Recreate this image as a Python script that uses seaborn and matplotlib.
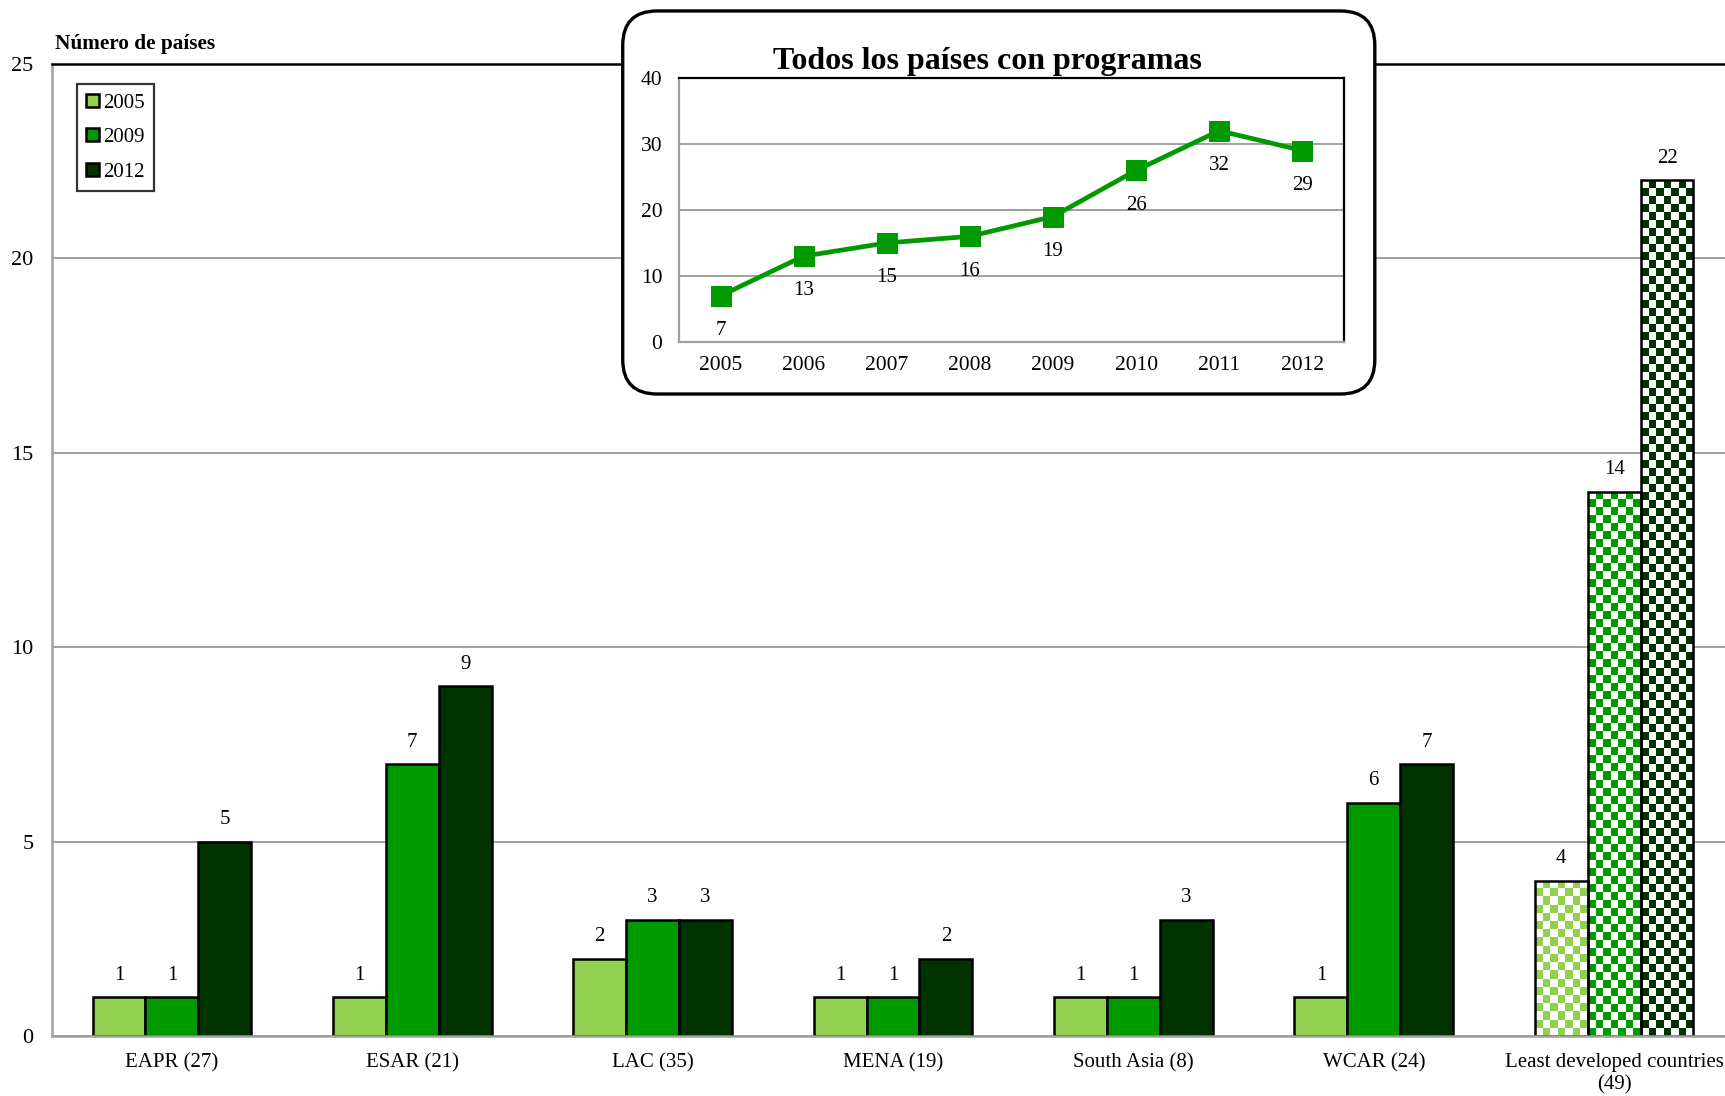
import numpy as np
import pandas as pd
import matplotlib
matplotlib.use("Agg")
import matplotlib.pyplot as plt
from matplotlib.colors import ListedColormap
from matplotlib.patches import FancyBboxPatch
import seaborn as sns

# data
categories = ["EAPR (27)", "ESAR (21)", "LAC (35)", "MENA (19)",
              "South Asia (8)", "WCAR (24)", "Least developed countries\n(49)"]
years = ["2005", "2009", "2012"]
v2005 = [1, 1, 2, 1, 1, 1, 4]
v2009 = [1, 7, 3, 1, 1, 6, 14]
v2012 = [5, 9, 3, 2, 3, 7, 22]

inset_years = ["2005", "2006", "2007", "2008", "2009", "2010", "2011", "2012"]
inset_values = [7, 13, 15, 16, 19, 26, 32, 29]

colors = ["#92D050", "#009900", "#003300"]
grey = "#A0A0A0"

sns.set_style("white")
plt.rcParams["font.family"] = ["Liberation Serif", "DejaVu Serif"]
plt.rcParams["text.color"] = "black"
plt.rcParams["xtick.color"] = "black"
plt.rcParams["ytick.color"] = "black"

df = pd.DataFrame({
    "region": categories * 3,
    "year": [y for y in years for _ in categories],
    "count": v2005 + v2009 + v2012,
})

fig = plt.figure(figsize=(17.25, 10.96), dpi=100)
ax = fig.add_axes([0.030, 0.0544, 0.9754, 0.8874])

sns.barplot(data=df, x="region", y="count", hue="year", palette=colors,
            order=categories, hue_order=years, width=0.66, saturation=1,
            edgecolor="black", linewidth=1.8, ax=ax, errorbar=None)

ax.set_xlim(-0.5, 6.5)
ax.set_ylim(0, 25)
ax.set_yticks(range(0, 26, 5))
ax.set_axisbelow(True)
ax.yaxis.grid(True, color=grey, linewidth=1.4)
ax.set_xlabel("")
ax.set_ylabel("")

for s in ["left", "bottom"]:
    ax.spines[s].set_color(grey)
    ax.spines[s].set_linewidth(1.8)
ax.spines["top"].set_color("black")
ax.spines["top"].set_linewidth(1.8)
ax.spines["right"].set_visible(False)

ax.set_xticks(range(len(categories)))
ax.set_xticklabels(categories)
ax.set_xticks(np.arange(-0.5, 7, 1), minor=True)
ax.tick_params(axis="x", which="major", length=0, pad=12, labelsize=15)
ax.tick_params(axis="x", which="minor", length=6, width=1.4, color=grey, direction="out")
ax.tick_params(axis="y", length=6, width=1.4, color=grey, labelcolor="black",
               direction="out", labelsize=16, pad=7)

# checkered fill for the least developed countries group
fig.canvas.draw()
px_per_x = ax.get_window_extent().width / 7.0
px_per_y = ax.get_window_extent().height / 25.0
for cont, col in zip(ax.containers, colors):
    p = cont.patches[-1]
    x0, w, h = p.get_x(), p.get_width(), p.get_height()
    nx = max(1, int(round(w * px_per_x / 8)))
    ny = max(1, int(round(h * px_per_y / 8)))
    checker = np.indices((ny, nx)).sum(axis=0) % 2
    im = ax.imshow(checker, extent=(x0, x0 + w, 0, h), aspect="auto",
                   cmap=ListedColormap(["white", col]), interpolation="nearest",
                   zorder=p.get_zorder() - 0.1)
    im.set_clip_path(p)
    p.set_facecolor("none")

ax.set_xlim(-0.5, 6.5)
ax.set_ylim(0, 25)

for cont in ax.containers:
    ax.bar_label(cont, padding=9, fontsize=15)

ax.legend(loc="upper left", bbox_to_anchor=(0.015, 0.979), borderaxespad=0,
          fontsize=15, frameon=True, fancybox=False, edgecolor="black",
          handlelength=0.6, handleheight=0.6, handletextpad=0.2,
          labelspacing=0.75, borderpad=0.45).get_frame().set_linewidth(1.6)

fig.text(0.032, 0.9600, "Número de países", fontsize=15.3, fontweight="bold",
         va="center", ha="left")

# inset box with the overall trend
box = FancyBboxPatch((0.361, 0.6405), 0.436, 0.3495, transform=fig.transFigure,
                     boxstyle="round,pad=0,rounding_size=0.02",
                     facecolor="white", edgecolor="black", linewidth=2.4,
                     zorder=5, mutation_aspect=1.57)
fig.patches.append(box)

ins = fig.add_axes([0.3936, 0.688, 0.3855, 0.2409], zorder=6)
inset_df = pd.DataFrame({"year": inset_years, "value": inset_values})
sns.lineplot(data=inset_df, x="year", y="value", color="#009900", linewidth=3.4,
             marker="s", markersize=14, markeredgecolor="#009900", ax=ins)
for i, v in enumerate(inset_values):
    ins.annotate(str(v), (i, v), xytext=(0, -25), textcoords="offset points",
                 ha="center", va="center", fontsize=15)
ins.set_xlim(-0.5, 7.5)
ins.set_ylim(0, 40)
ins.set_yticks(range(0, 41, 10))
ins.set_axisbelow(True)
ins.yaxis.grid(True, color=grey, linewidth=1.4)
ins.set_xlabel("")
ins.set_ylabel("")
ins.set_xticks(np.arange(-0.5, 8, 1), minor=True)
ins.tick_params(axis="x", which="major", length=0, pad=10, labelsize=15.5)
ins.tick_params(axis="x", which="minor", length=5, width=1.2, color=grey, direction="out")
ins.tick_params(axis="y", length=5, width=1.2, color=grey, labelcolor="black",
                direction="out", labelsize=15.5, pad=7)
for s in ["left", "bottom"]:
    ins.spines[s].set_color(grey)
    ins.spines[s].set_linewidth(1.6)
for s in ["top", "right"]:
    ins.spines[s].set_color("black")
    ins.spines[s].set_linewidth(1.6)
fig.text(0.5727, 0.944, "Todos los países con programas", fontsize=23,
         fontweight="bold", ha="center", va="center", zorder=7)

fig.savefig("out.png", dpi=100)
